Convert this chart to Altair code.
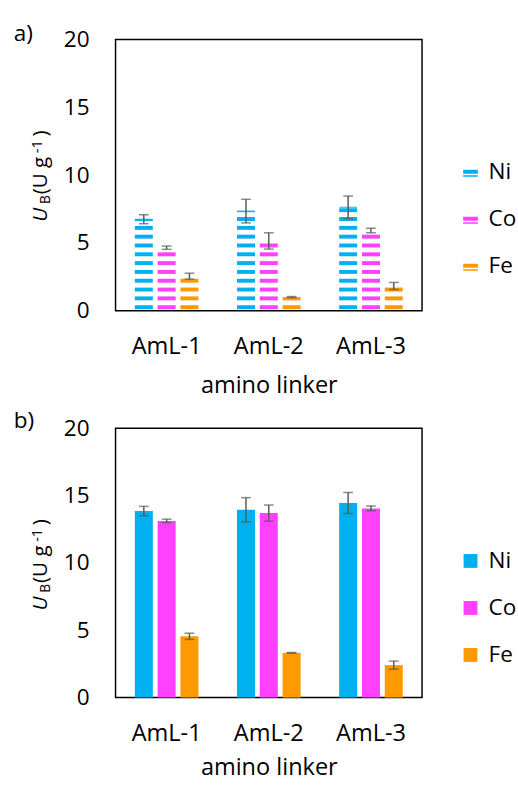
import altair as alt
import pandas as pd

FONT = "Open Sans"

categories = ["AmL-1", "AmL-2", "AmL-3"]
metals = ["Ni", "Co", "Fe"]
colors = ["#00B0F0", "#FF40FF", "#FF9900"]

# panel a) values and error half-widths (per category AmL-1..3)
a_Ni = [6.75, 7.35, 7.63]
a_Co = [4.65, 5.15, 5.92]
a_Fe = [2.55, 1.01, 1.83]
a_Ni_err = [0.33, 0.87, 0.83]
a_Co_err = [0.12, 0.60, 0.16]
a_Fe_err = [0.22, 0.04, 0.26]

# panel b)
b_Ni = [13.85, 13.95, 14.45]
b_Co = [13.12, 13.70, 14.05]
b_Fe = [4.55, 3.32, 2.41]
b_Ni_err = [0.35, 0.90, 0.78]
b_Co_err = [0.13, 0.60, 0.17]
b_Fe_err = [0.23, 0.03, 0.30]

W = 313


def long_df(ni, co, fe, ni_e, co_e, fe_e):
    rows = []
    for m, vals, errs in (("Ni", ni, ni_e), ("Co", co, co_e), ("Fe", fe, fe_e)):
        for c, v, e in zip(categories, vals, errs):
            rows.append({"cat": c, "metal": m, "value": v, "lo": v - e, "hi": v + e})
    return pd.DataFrame(rows)


def stripes(df, pitch=0.65, thick=0.29, off=0.12):
    rows = []
    for _, r in df.iterrows():
        y0 = off
        while y0 < r["value"]:
            rows.append({"cat": r["cat"], "metal": r["metal"], "y0": y0,
                         "y1": min(y0 + thick, r["value"])})
            y0 += pitch
    return pd.DataFrame(rows)


def xenc(tpad):
    return alt.X("cat:N", sort=categories,
                 scale=alt.Scale(paddingInner=0.377, paddingOuter=0.1885),
                 axis=alt.Axis(title="amino linker", labelAngle=0, ticks=False, domain=False,
                               labelPadding=25, titlePadding=tpad, labelFontSize=24,
                               titleFontSize=24, titleFontWeight="normal"))


def xoff():
    return alt.XOffset("metal:N", sort=metals, scale=alt.Scale(paddingInner=0.21, paddingOuter=0))


def yscale():
    return alt.Scale(domain=[0, 20], nice=False, zero=True)


yaxis = alt.Axis(values=[0, 5, 10, 15, 20], title=None, grid=False, ticks=False, domain=False,
                 labelPadding=27, labelFontSize=23)


def text_piece(t, x, y, size, italic=False):
    return alt.Chart(pd.DataFrame({"t": [t]})).mark_text(
        angle=270, align="left", baseline="alphabetic", fontSize=size, font=FONT,
        fontStyle="italic" if italic else "normal", color="black",
    ).encode(text="t:N", x=alt.value(x), y=alt.value(y))


def label_piece(t, x, y):
    return alt.Chart(pd.DataFrame({"t": [t]})).mark_text(
        align="left", baseline="alphabetic", fontSize=23, font=FONT, color="black"
    ).encode(text="t:N", x=alt.value(x), y=alt.value(y))


def ytitle():
    return [
        text_piece("U", -70, 186, 21, italic=True),
        text_piece("B", -67, 168, 14),
        text_piece("(U g", -70, 158, 21),
        text_piece("-1", -75, 116, 15),
        text_piece(")", -70, 99, 21),
    ]


def panel(df, striped, letter, h, tpad):
    if striped:
        sym = "M-1,-0.35H1V0.22H-1Z M-1,0.42H1V0.62H-1Z"
        size = 225
    else:
        sym = "square"
        size = 200
    color = alt.Color("metal:N", sort=metals,
                      scale=alt.Scale(domain=metals, range=colors),
                      legend=alt.Legend(title=None, orient="none", legendX=351, legendY=124,
                                        symbolType=sym, symbolSize=size, symbolStrokeWidth=0,
                                        symbolOpacity=1, labelFontSize=23, labelFont=FONT,
                                        labelColor="black", rowPadding=24, labelOffset=7))
    X = xenc(tpad)
    layers = []
    if striped:
        sdf = stripes(df)
        layers.append(alt.Chart(sdf).mark_bar(opacity=1).encode(
            x=X, xOffset=xoff(),
            y=alt.Y("y0:Q", scale=yscale(), axis=yaxis), y2="y1:Q", color=color))
        layers.append(alt.Chart(df[df.metal == "Ni"]).mark_tick(
            size=18, thickness=1.2, color=colors[0], opacity=0.8).encode(
            x=X, xOffset=xoff(), y=alt.Y("value:Q", scale=yscale(), axis=yaxis)))
    else:
        layers.append(alt.Chart(df).mark_bar(opacity=1).encode(
            x=X, xOffset=xoff(),
            y=alt.Y("value:Q", scale=yscale(), axis=yaxis), color=color))
    base = alt.Chart(df)
    layers.append(base.mark_rule(color="#595959", strokeWidth=1.5).encode(
        x=X, xOffset=xoff(), y=alt.Y("lo:Q", scale=yscale(), axis=yaxis), y2="hi:Q"))
    for fld in ("lo", "hi"):
        layers.append(base.mark_tick(color="#595959", size=10, thickness=1.5).encode(
            x=X, xOffset=xoff(), y=alt.Y(f"{fld}:Q", scale=yscale(), axis=yaxis)))
    layers += ytitle()
    layers.append(label_piece(letter, -104, 1 if letter == "a)" else 0))
    return alt.layer(*layers).properties(width=W, height=h)


dfa = long_df(a_Ni, a_Co, a_Fe, a_Ni_err, a_Co_err, a_Fe_err)
dfb = long_df(b_Ni, b_Co, b_Fe, b_Ni_err, b_Co_err, b_Fe_err)

chart = alt.vconcat(panel(dfa, True, "a)", 277, 15), panel(dfb, False, "b)", 275, 11),
                    spacing=12).resolve_scale(color="independent").properties(
    padding={"left": 13, "top": 14, "right": 0, "bottom": 0}
).configure_view(stroke="black", strokeWidth=1.5).configure_axis(
    labelFont=FONT, titleFont=FONT, labelColor="black", titleColor="black"
).configure_legend(labelFont=FONT, labelColor="black")

chart.save("out.html", embed_options={"renderer": "svg", "actions": False})
